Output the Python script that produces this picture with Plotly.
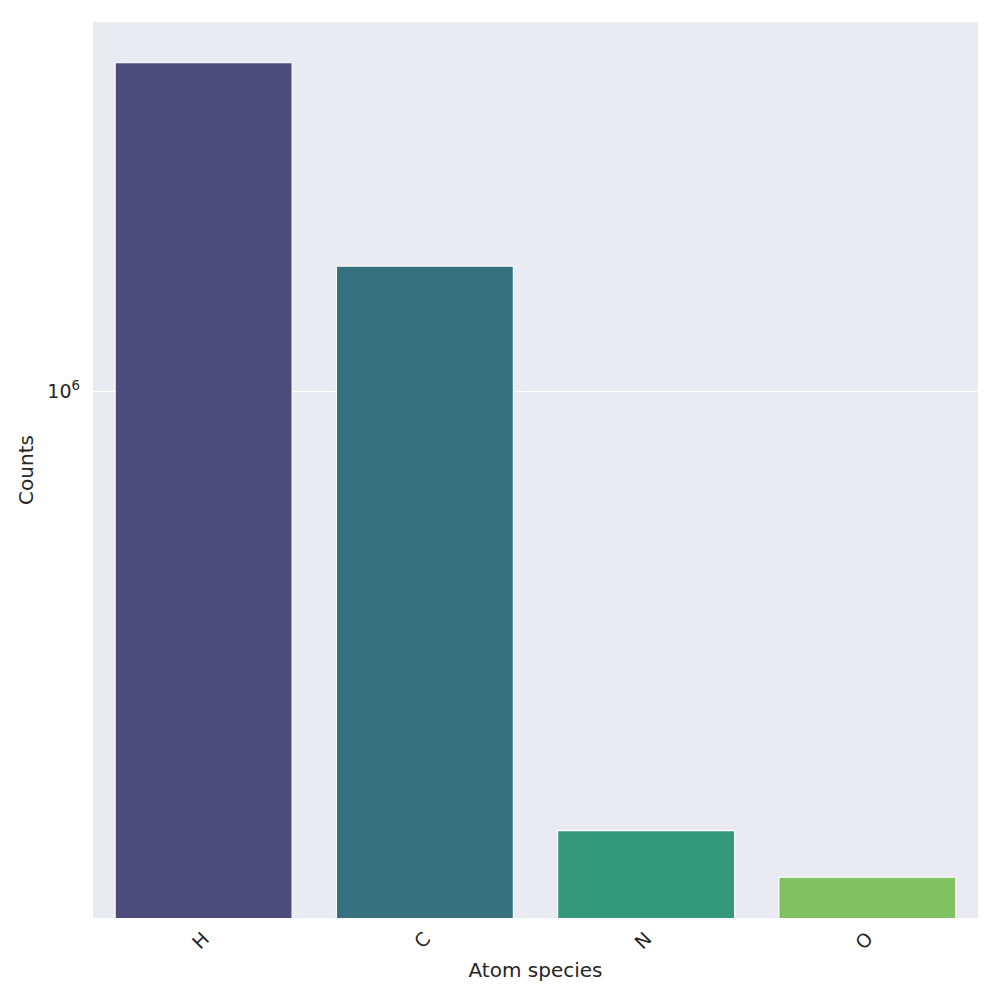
import numpy as np
import plotly.graph_objs as go

species = ["H", "C", "N", "O"]
counts = [3.07e6, 1.535e6, 2.24e5, 1.91e5]
bar_colors = ["#4B4C7C", "#367180", "#34997B", "#80C261"]

FONT = "DejaVu Sans"

# matplotlib-style 5% margins in log space
lo, hi = np.log10(min(counts)), np.log10(max(counts))
pad = 0.05 * (hi - lo)

fig = go.Figure()
fig.add_trace(
    go.Bar(
        x=species,
        y=counts,
        width=0.8,
        marker=dict(color=bar_colors, line=dict(color="white", width=1.2)),
        showlegend=False,
    )
)

fig.update_layout(
    width=1000,
    height=1000,
    paper_bgcolor="white",
    plot_bgcolor="#EAEAF2",
    margin=dict(l=85, r=30, t=14, b=90),
    font=dict(family=FONT, color="#262626"),
    bargap=0.2,
    xaxis=dict(
        range=[-0.5, 3.5],
        tickangle=-45,
        tickfont=dict(size=19),
        ticklabelstandoff=5,
        showgrid=False,
        ticks="",
        title=dict(text="Atom species", font=dict(size=20), standoff=10),
    ),
    yaxis=dict(
        type="log",
        range=[lo - pad, hi + pad],
        tickvals=[1e6],
        ticktext=["10<sup>6</sup>"],
        tickfont=dict(size=19),
        ticklabelstandoff=12,
        showgrid=True,
        gridcolor="white",
        gridwidth=1,
        zeroline=False,
        ticks="",
        title=dict(text="Counts", font=dict(size=20), standoff=8),
    ),
)

fig.write_html("out.html")
